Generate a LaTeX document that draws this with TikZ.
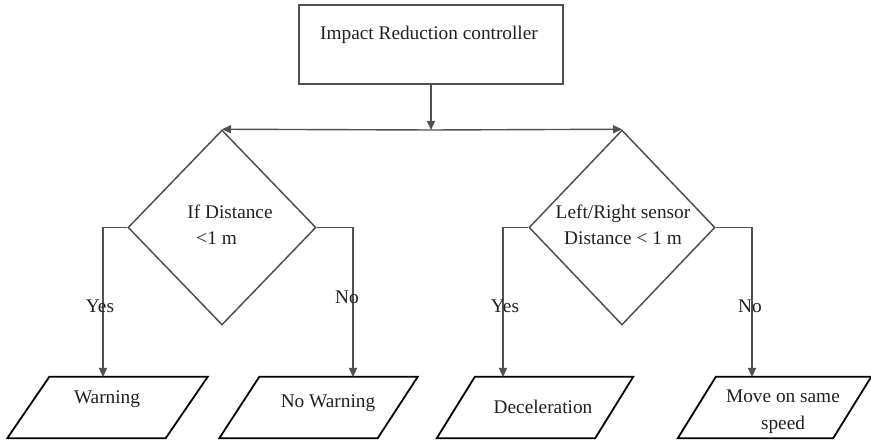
\documentclass[tikz,border=0pt]{standalone}
\usepackage{fontspec}
\setmainfont{Liberation Serif}
\usetikzlibrary{shapes.geometric,arrows.meta,calc}

\definecolor{linegray}{HTML}{505050}
\definecolor{inkgray}{HTML}{202020}

\begin{document}
\begin{tikzpicture}[x=1pt,y=-1pt,
  txt/.style={font=\fontsize{19.3}{26}\selectfont, text=inkgray, inner sep=0pt},
  box/.style={draw=linegray, line width=1.8pt, minimum width=264pt, minimum height=79pt, inner sep=0pt},
  decision/.style={diamond, draw=linegray, line width=1.5pt, minimum width=188pt, minimum height=195pt, inner sep=0pt},
  iobox/.style={rectangle, minimum width=158pt, minimum height=61pt, inner sep=0pt},
  para/.style={draw=black, line width=1.8pt, line join=miter},
  flow/.style={draw=linegray, line width=1.4pt, -{Triangle[length=9pt,width=8pt]}},
  wire/.style={draw=linegray, line width=1.4pt}
]
\useasboundingbox (0,0) rectangle (871,443);

% controller block and the split point under it
\node[box] (b) at (431,44.5) {};
\node[txt] (bt) at (429,35) {Impact Reduction controller};
\coordinate (j) at (431,130);

% decisions
\node[decision] (d1) at (222,227.5) {};
\node[txt, align=left] (d1t) at (230,225) {If Distance\\\hspace*{9pt}<1 m};
\node[decision, minimum width=186pt] (d2) at (622,227.5) {};
\node[txt, align=center] (d2t) at (623,225) {Left/Right sensor\\Distance < 1 m};

% outputs (parallelograms around rectangle frames)
\node[iobox] (w)  at (107.5,407.5) {};
\node[iobox] (nw) at (318.5,407.5) {};
\node[iobox] (dc) at (535,407.5) {};
\node[iobox, minimum width=155pt] (ms) at (774.5,407.5) {};
\foreach \n/\s in {w/21, nw/20, dc/19, ms/19}{
  \draw[para] ([xshift=\s pt]\n.north west) -- ([xshift=\s pt]\n.north east)
    -- ([xshift=-\s pt]\n.south east) -- ([xshift=-\s pt]\n.south west) -- cycle;
}
\node[txt] (wt)  at (107,399) {Warning};
\node[txt] (nwt) at (328,403) {No Warning};
\node[txt] (dct) at (543,407) {Deceleration};
\node[txt, align=center, font=\fontsize{19.3}{27}\selectfont] (mst) at (783,411.5) {Move on same\\speed};

% entry points on the output tops
\coordinate (wIn)  at (103,377);
\coordinate (nwIn) at (353,377);
\coordinate (dcIn) at (503,377);
\coordinate (msIn) at (752,377);

% connectors
\draw[flow] (b.south) -- (j);
\draw[flow] (j) -- (d1.north);
\draw[flow] (j) -- (d2.north);
\draw[flow] (d1.west) -| (wIn);
\draw[flow] (d1.east) -| (nwIn);
\draw[flow] (d2.west) -| (dcIn);
\draw[flow] (d2.east) -| (msIn);

% branch labels
\node[txt] (y1) at (100,306) {Yes};
\node[txt] (n1) at (347,297) {No};
\node[txt] (y2) at (505,306) {Yes};
\node[txt] (n2) at (750,306) {No};
\end{tikzpicture}
\end{document}
